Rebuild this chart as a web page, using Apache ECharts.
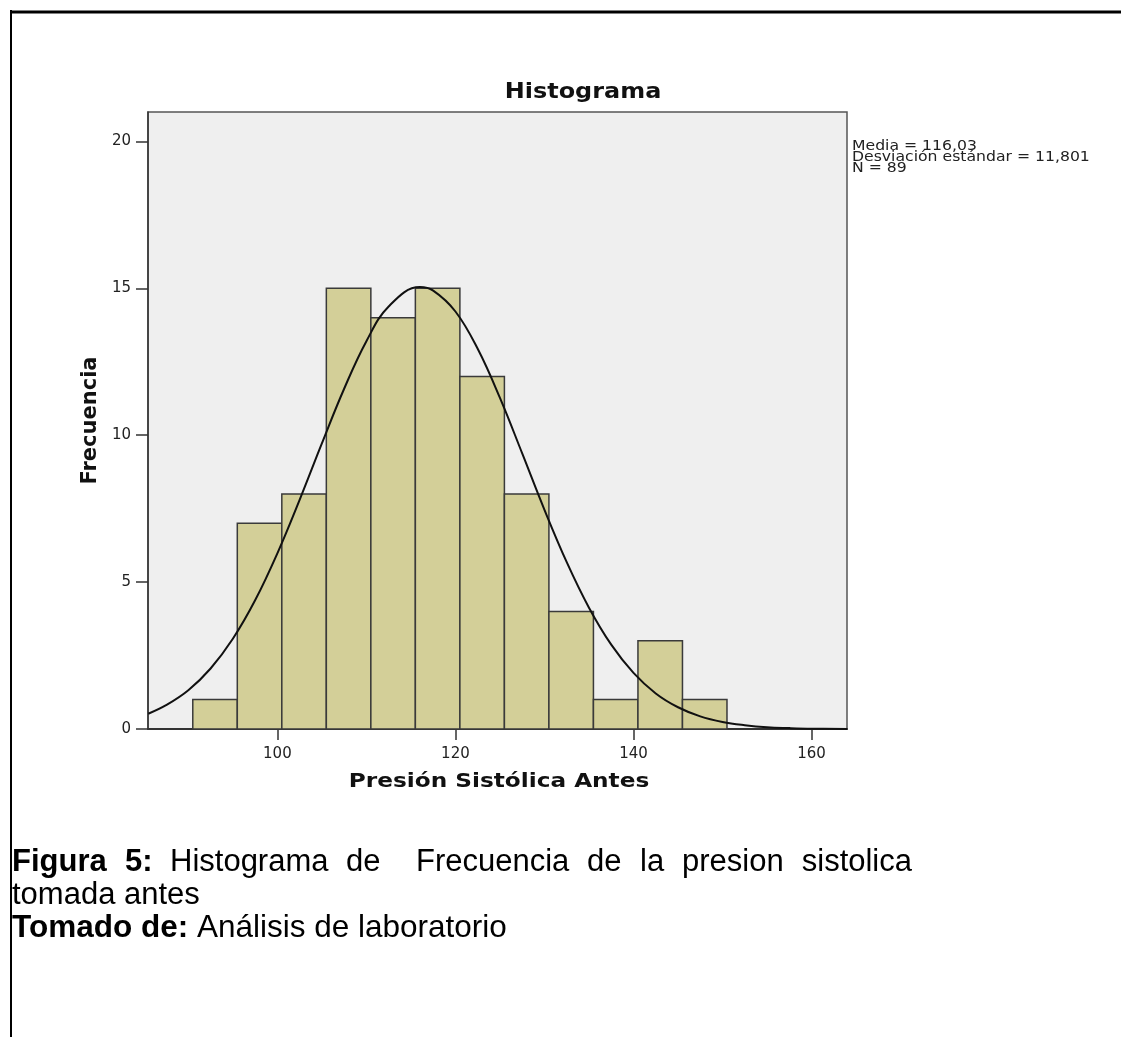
<!DOCTYPE html>
<html>
<head>
<meta charset="utf-8">
<script src="https://cdn.jsdelivr.net/npm/echarts@6/dist/echarts.min.js"></script>
<style>
    html, body { margin: 0; padding: 0; background: #fff; }
    #main { width: 1121px; height: 1037px; }
</style>
</head>
<body>
<div id="main"></div>
<script>
var binStarts = [90.5, 95.5, 100.5, 105.5, 110.5, 115.5, 120.5, 125.5, 130.5, 135.5, 140.5, 145.5];
var binWidth = 5;
var counts = [1, 7, 8, 15, 14, 15, 12, 8, 4, 1, 3, 1];

// curva normal (leida punto a punto)
var curveX = [85.5, 87.5, 90, 92.5, 95, 97.5, 100, 102.5, 105, 107.5, 110, 112.5, 116, 117.5, 120, 122.5, 125, 127.5, 130, 132.5, 135, 137.5, 140, 142.5, 145, 147.5, 150, 152.5, 155, 157.5, 160, 164];
var curveY = [0.52, 0.81, 1.32, 2.06, 3.07, 4.38, 5.98, 7.8, 9.72, 11.58, 13.2, 14.38, 15.04, 14.92, 14.21, 12.94, 11.27, 9.38, 7.46, 5.68, 4.13, 2.87, 1.91, 1.21, 0.74, 0.43, 0.24, 0.13, 0.06, 0.03, 0.01, 0.0];

var xTicks = [100, 120, 140, 160];
var yTicks = [0, 5, 10, 15, 20];
var statsLines = ['Media = 116,03', 'Desviación estándar = 11,801', 'N = 89'];

var chart = {};

chart.init = function () {
    chart.render();
};

chart.caption = function () {
    var capFont = '"Liberation Sans", Arial, sans-serif';
    // primera linea justificada: palabra y su posicion x
    var line1 = [
        { t: 'Figura', x: 12, b: true },
        { t: '5:', x: 125, b: true },
        { t: 'Histograma', x: 170 },
        { t: 'de', x: 346 },
        { t: 'Frecuencia', x: 416 },
        { t: 'de', x: 587 },
        { t: 'la', x: 640 },
        { t: 'presion', x: 682 }
    ];
    var items = [];
    function word(text, x, y, bold, align) {
        items.push({
            type: 'text', x: x, y: y,
            style: {
                text: text, fill: '#000', fontSize: 31, fontFamily: capFont,
                fontWeight: bold ? 'bold' : 'normal', textAlign: align || 'left', textVerticalAlign: 'middle'
            }
        });
    }
    line1.forEach(function (w) {
        word(w.t, w.x, 862, w.b);
    });
    word('sistolica', 912, 862, false, 'right');
    word('tomada antes', 12, 895, false);
    items.push({
        type: 'text', x: 12, y: 928,
        style: {
            text: '{b|Tomado de:} Análisis de laboratorio', fill: '#000', fontSize: 31.5, fontFamily: capFont,
            textVerticalAlign: 'middle',
            rich: { b: { fontWeight: 'bold', fontSize: 31.5, fontFamily: capFont } }
        }
    });
    return items;
};

chart.render = function () {
    var bars = [];
    binStarts.forEach(function (lo, i) {
        bars.push([lo, lo + binWidth, counts[i]]);
    });
    var curve = [];
    curveX.forEach(function (x, i) {
        curve.push([x, curveY[i]]);
    });

    var spss = 'DejaVu Sans';

    var graphics = [
        { type: 'line', shape: { x1: 10, y1: 12, x2: 1121, y2: 12 }, style: { stroke: '#000', lineWidth: 3 } },
        { type: 'line', shape: { x1: 11, y1: 10, x2: 11, y2: 1037 }, style: { stroke: '#000', lineWidth: 2 } },
        {
            type: 'text', x: 583, y: 93, scaleX: 1.14,
            style: { text: 'Histograma', font: 'bold 21px "DejaVu Sans"', fill: '#111', textAlign: 'center', textVerticalAlign: 'middle' }
        },
        {
            type: 'text', x: 499, y: 782, scaleX: 1.16,
            style: { text: 'Presión Sistólica Antes', font: 'bold 20px "DejaVu Sans"', fill: '#111', textAlign: 'center', textVerticalAlign: 'middle' }
        },
        {
            type: 'text', x: 852, y: 141, scaleX: 1.16,
            style: { text: statsLines.join('\n'), font: '13.5px "DejaVu Sans"', fill: '#222', lineHeight: 11 }
        }
    ].concat(chart.caption());

    var myChart = echarts.init(document.getElementById('main'));
    var option = {
        backgroundColor: '#fff',
        animation: false,
        grid: {
            left: 148, top: 112, width: 699, height: 617,
            show: true, backgroundColor: '#efefef', borderColor: '#555', borderWidth: 1.5
        },
        xAxis: {
            type: 'value', min: 85.47, max: 163.98,
            axisLine: { show: true, onZero: false, lineStyle: { color: '#333', width: 2 } },
            axisTick: { show: true, length: 11, lineStyle: { color: '#333', width: 1.5 }, customValues: xTicks },
            axisLabel: { fontFamily: spss, fontSize: 15, color: '#222', margin: 18, customValues: xTicks },
            splitLine: { show: false }
        },
        yAxis: {
            type: 'value', min: 0, max: 21,
            name: 'Frecuencia', nameLocation: 'middle', nameGap: 46, nameRotate: 90,
            nameTextStyle: { fontFamily: spss, fontSize: 21, fontWeight: 'bold', color: '#111' },
            axisLine: { show: true, lineStyle: { color: '#333', width: 1.5 } },
            axisTick: { show: true, length: 12, lineStyle: { color: '#333', width: 1.5 }, customValues: yTicks },
            axisLabel: { fontFamily: spss, fontSize: 15, color: '#222', margin: 17, customValues: yTicks },
            splitLine: { show: false }
        },
        series: [
            {
                type: 'custom',
                data: bars,
                renderItem: function (params, api) {
                    var p0 = api.coord([api.value(0), api.value(2)]);
                    var p1 = api.coord([api.value(1), 0]);
                    return {
                        type: 'rect',
                        shape: { x: p0[0], y: p0[1], width: p1[0] - p0[0], height: p1[1] - p0[1] },
                        style: { fill: '#d3cf98', stroke: '#3a3a3a', lineWidth: 1.5 }
                    };
                }
            },
            {
                type: 'line',
                data: curve,
                smooth: 0.4,
                symbol: 'none',
                clip: true,
                lineStyle: { color: '#111', width: 2 },
                z: 3
            }
        ],
        graphic: graphics
    };
    myChart.setOption(option);
};

chart.init();
</script>
</body>
</html>
